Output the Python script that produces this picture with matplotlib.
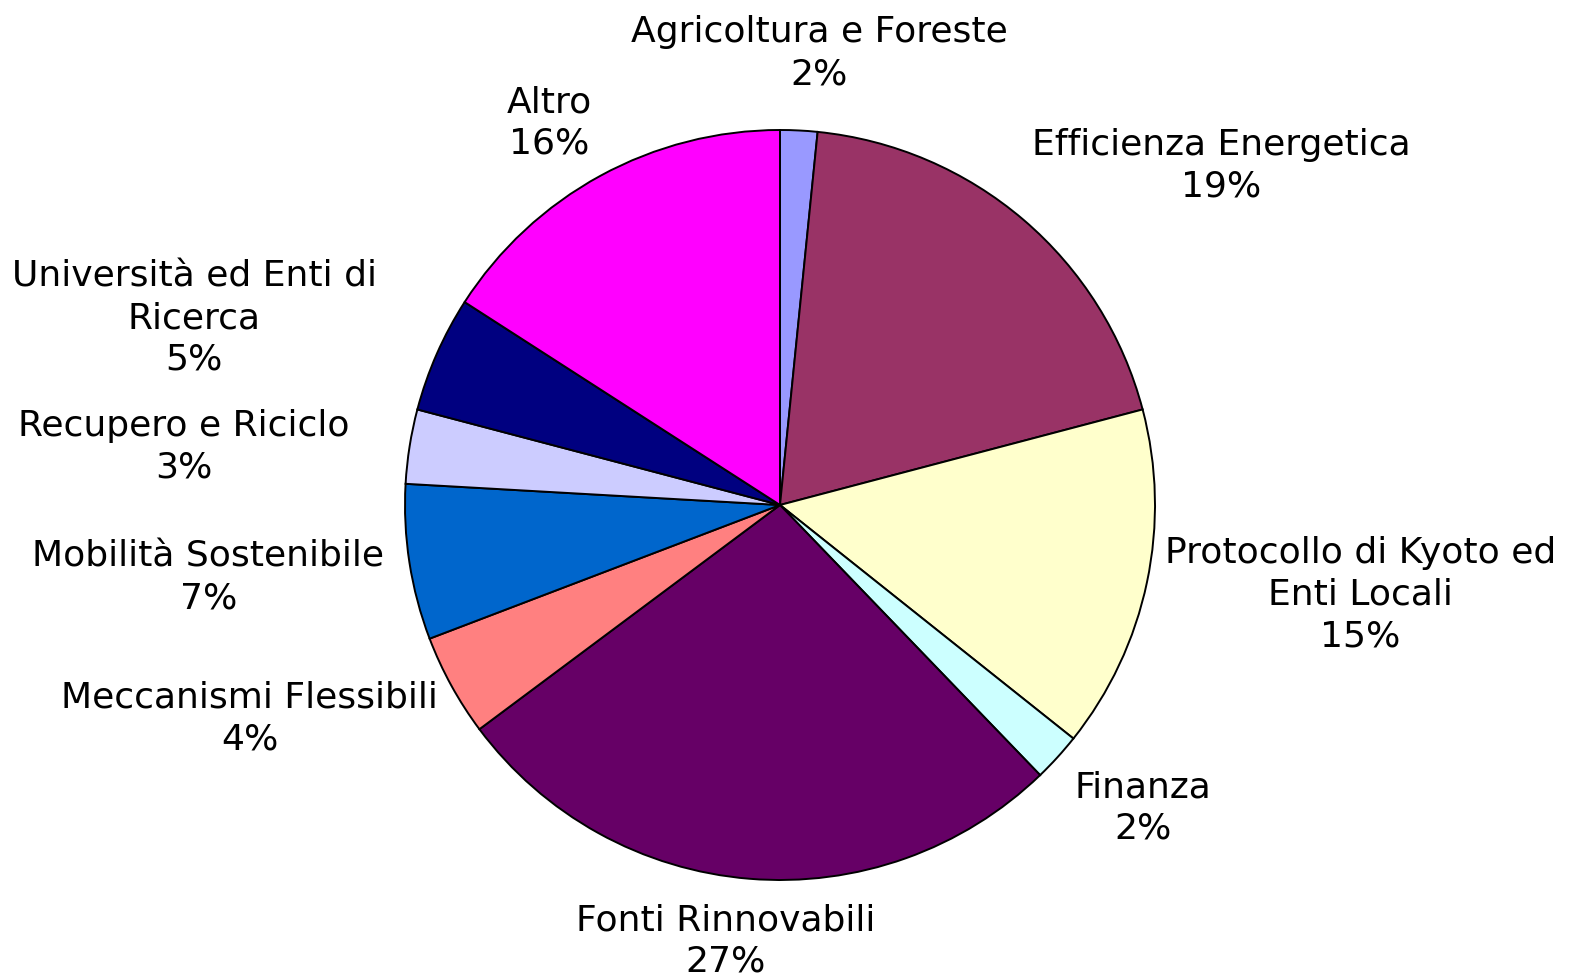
import numpy as np
import matplotlib
matplotlib.use("Agg")
import matplotlib.pyplot as plt

# settori (in senso orario dall'alto)
labels = ["Agricoltura e Foreste", "Efficienza Energetica", "Protocollo di Kyoto ed\nEnti Locali",
          "Finanza", "Fonti Rinnovabili", "Meccanismi Flessibili", "Mobilità Sostenibile",
          "Recupero e Riciclo", "Università ed Enti di\nRicerca", "Altro"]
values = [1.6, 19.3, 14.8, 2.1, 27.0, 4.4, 6.7, 3.2, 5.0, 15.9]
colors = ["#9999FF", "#993366", "#FFFFCC", "#CCFFFF", "#660066",
          "#FF8080", "#0066CC", "#CCCCFF", "#000080", "#FF00FF"]

# piccoli spostamenti delle etichette (pixel, x a destra, y in basso)
nudge = [(10, -17), (60, -8), (0, -4), (18, 10), (-10, 2),
         (-17, 4), (-5, 6), (-40, 10), (-55, -3), (-20, 0)]

W, H = 1571, 980
R = 375  # raggio in pixel
cx, cy = 780, 505

fig = plt.figure(figsize=(W / 100, H / 100), dpi=100)
ax = fig.add_axes([0, 0, 1, 1])

wedges, _ = ax.pie(values, colors=colors, startangle=90, counterclock=False,
                   wedgeprops=dict(edgecolor="black", linewidth=1.4))

ax.set_xlim(-cx / R, (W - cx) / R)
ax.set_ylim(-(H - cy) / R, cy / R)
ax.set_aspect("equal")
ax.axis("off")

renderer = fig.canvas.get_renderer()
inv = ax.transData.inverted()
for w, lab, v, (nx, ny) in zip(wedges, labels, values, nudge):
    theta = np.deg2rad((w.theta1 + w.theta2) / 2)
    c, s = np.cos(theta), np.sin(theta)
    txt = ax.text(0, 0, f"{lab}\n{v:.0f}%", ha="center", va="center",
                  fontsize=26, color="black", linespacing=1.28)
    bb = txt.get_window_extent(renderer)
    (x0, y0), (x1, y1) = inv.transform([[bb.x0, bb.y0], [bb.x1, bb.y1]])
    tw, th = x1 - x0, y1 - y0
    px, py = 1.06 * c, 1.06 * s
    txt.set_position((px + tw / 2 * c + nx / R, py + th / 2 * s - ny / R))

fig.savefig("out.png", dpi=100, facecolor="white")
